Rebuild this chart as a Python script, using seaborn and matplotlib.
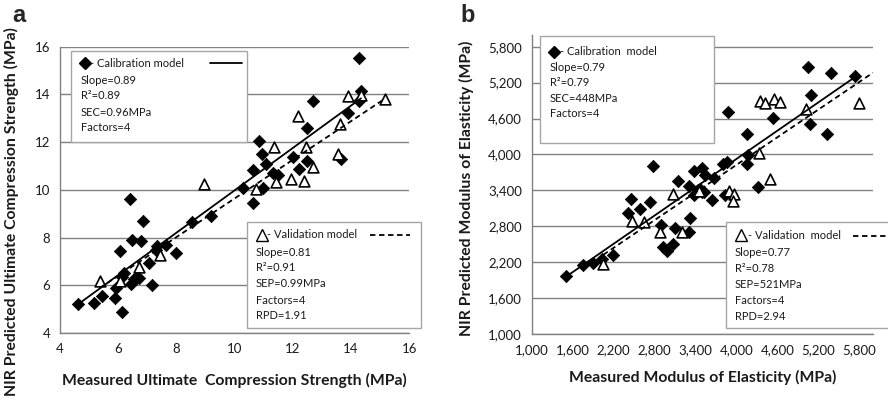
import matplotlib
matplotlib.use("Agg")
import matplotlib.pyplot as plt
import seaborn as sns
import numpy as np
from matplotlib.patches import Rectangle
from matplotlib.lines import Line2D

# ---------------- data ----------------
# Panel a: ultimate compression strength (MPa)
a_cal_x = [4.62, 5.16, 5.45, 5.88, 5.93, 6.13, 6.13, 6.19, 6.07, 6.44, 6.55, 6.65, 6.73,
           6.42, 6.47, 6.79, 6.84, 7.05, 7.16, 7.33, 7.30, 7.65, 7.98, 8.55, 9.18, 10.28,
           10.62, 10.97, 10.62, 10.84, 10.95, 11.07, 11.31, 11.48, 11.99, 12.20, 12.50,
           12.47, 12.70, 13.65, 13.90, 14.28, 14.34, 14.28]
a_cal_y = [5.21, 5.25, 5.56, 5.46, 5.88, 4.90, 6.36, 6.53, 7.44, 6.06, 6.28, 6.36, 6.32,
           9.61, 7.90, 7.86, 8.71, 6.95, 6.00, 7.66, 7.48, 7.69, 7.37, 8.64, 8.92, 10.09,
           9.46, 10.09, 10.82, 12.05, 11.49, 11.09, 10.72, 10.62, 11.39, 10.86, 11.22,
           12.58, 13.74, 11.28, 13.24, 13.72, 14.16, 15.54]
a_val_x = [5.36, 6.07, 6.70, 7.42, 8.96, 10.74, 11.41, 11.35, 11.93, 12.39, 12.45, 12.19,
           12.70, 13.56, 13.62, 13.90, 14.34, 15.16]
a_val_y = [6.20, 6.18, 6.76, 7.27, 10.24, 10.03, 10.32, 11.79, 10.46, 10.37, 11.81, 13.11,
           10.97, 11.50, 12.75, 13.95, 13.98, 13.80]
a_cal_fit = [0.888, 1.10]   # slope, intercept
a_val_fit = [0.81, 1.54]

# Panel b: modulus of elasticity (MPa)
b_cal_x = [1500, 1750, 1893, 2025, 2190, 2406, 2452, 2580, 2737, 2772, 2890, 2927, 2985,
           3064, 3100, 3138, 3308, 3313, 3308, 3375, 3381, 3430, 3470, 3489, 3498, 3537,
           3520, 3635, 3674, 3797, 3830, 3864, 3878, 4148, 4157, 4171, 4318, 4528, 5046,
           5070, 5089, 5324, 5392, 5734]
b_cal_y = [1969, 2153, 2191, 2253, 2320, 3016, 3262, 3087, 3200, 3812, 2813, 2459, 2387,
           2500, 2766, 3556, 2709, 2933, 3478, 3323, 3723, 3400, 3420, 3378, 3779, 3657,
           3380, 3245, 3611, 3840, 3315, 3868, 4704, 4348, 3838, 3997, 3450, 4604, 5453,
           4509, 4988, 4348, 5366, 5313]
b_val_x = [2049, 2464, 2649, 2878, 3064, 3200, 3450, 3893, 3962, 3952, 4332, 4489, 4343,
           4420, 4548, 4636, 5016, 5797]
b_val_y = [2170, 2890, 2870, 2704, 3336, 2704, 3390, 3389, 3334, 3227, 4019, 3585, 4894,
           4866, 4923, 4882, 4754, 4866]
b_cal_fit = [0.788, 773]
b_val_fit = [0.77, 746]

a_ticks = [4, 6, 8, 10, 12, 14, 16]
b_ticks = [1000, 1600, 2200, 2800, 3400, 4000, 4600, 5200, 5800]

a_cal_text = ["- Calibration model", "Slope=0.89", "R\u00b2=0.89", "SEC=0.96MPa", "Factors=4"]
a_val_text = ["- Validation model", "Slope=0.81", "R\u00b2=0.91", "SEP=0.99MPa", "Factors=4", "RPD=1.91"]
b_cal_text = ["- Calibration  model", "Slope=0.79", "R\u00b2=0.79", "SEC=448MPa", "Factors=4"]
b_val_text = ["- Validation  model", "Slope=0.77", "R\u00b2=0.78", "SEP=521MPa", "Factors=4", "RPD=2.94"]

# ---------------- style ----------------
sns.set_theme(style="white")
plt.rcParams['font.family'] = ['Lato', 'DejaVu Sans']

W, H = 888, 400
fig = plt.figure(figsize=(W / 100, H / 100), dpi=100)

def fx(px):
    return px / W

def fy(py):
    return 1 - py / H

A_L, A_R, A_T, A_B = 60, 409.3, 46.7, 333
B_L, B_R, B_T, B_B = 531.7, 873, 34.75, 334
axA = fig.add_axes([fx(A_L), fy(A_B), fx(A_R - A_L), (A_B - A_T) / H])
axB = fig.add_axes([fx(B_L), fy(B_B), fx(B_R - B_L), (B_B - B_T) / H])

GRID = '#808080'

def style_axis(ax):
    for s in ['top', 'right']:
        ax.spines[s].set_visible(False)
    for s in ['left', 'bottom']:
        ax.spines[s].set_color(GRID)
        ax.spines[s].set_linewidth(1.0)
    ax.yaxis.grid(True, color=GRID, linewidth=1.0)
    ax.xaxis.grid(False)
    ax.set_axisbelow(True)
    ax.tick_params(axis='both', direction='out', length=4, width=1, color=GRID,
                   labelsize=9.5, labelcolor='#1a1a1a', pad=3)

def draw_panel(ax, cx, cy, vx, vy, cfit, vfit, xlim, ylim, ticks, xline_end):
    sns.scatterplot(x=cx, y=cy, ax=ax, marker='D', s=40, color='black',
                    edgecolor='black', linewidth=0.5, zorder=3, legend=False)
    sns.scatterplot(x=vx, y=vy, ax=ax, marker='^', s=60, color='white',
                    edgecolor='black', linewidth=1.2, zorder=3, legend=False)
    xc = np.array([min(cx), max(cx)])
    sns.lineplot(x=xc, y=cfit[0] * xc + cfit[1], ax=ax, color='black',
                 linewidth=1.3, zorder=4)
    xv = np.array([min(vx), xline_end])
    ln = sns.lineplot(x=xv, y=vfit[0] * xv + vfit[1], ax=ax, color='black',
                      linewidth=1.3, zorder=4)
    ln.lines[-1].set_dashes([3, 2])
    ax.set_xlim(*xlim)
    ax.set_ylim(*ylim)
    ax.set_xticks(ticks)
    ax.set_yticks(ticks)
    style_axis(ax)

draw_panel(axA, a_cal_x, a_cal_y, a_val_x, a_val_y, a_cal_fit, a_val_fit,
           (4, 16), (4, 16), a_ticks, max(a_val_x))
draw_panel(axB, b_cal_x, b_cal_y, b_val_x, b_val_y, b_cal_fit, b_val_fit,
           (1000, 6000), (1000, 6000), b_ticks, 6000)
axB.xaxis.set_major_formatter(matplotlib.ticker.StrMethodFormatter('{x:,.0f}'))
axB.yaxis.set_major_formatter(matplotlib.ticker.StrMethodFormatter('{x:,.0f}'))

lab = dict(fontsize=11.3, fontweight='bold', color='#1a1a1a')
axA.set_xlabel("Measured Ultimate  Compression Strength (MPa)", **lab)
axA.set_ylabel("NIR Predicted Ultimate Compression Strength (MPa)", **lab)
axB.set_xlabel("Measured Modulus of Elasticity (MPa)", **lab)
axB.set_ylabel("NIR Predicted Modulus of Elasticity (MPa)", **lab)

# label positions (axes coordinates computed from pixel targets)
axA.xaxis.set_label_coords(0.5, (A_B - 373) / (A_B - A_T))
axA.yaxis.set_label_coords((19 - A_L) / (A_R - A_L), (A_B - 212) / (A_B - A_T))
axB.xaxis.set_label_coords(0.5, (B_B - 369.5) / (B_B - B_T))
axB.yaxis.set_label_coords((474 - B_L) / (B_R - B_L), (B_B - 188) / (B_B - B_T))

fig.text(fx(19), fy(16), "a", fontsize=17, fontweight='bold', ha='center', va='center',
         family=['Liberation Sans', 'DejaVu Sans'])
fig.text(fx(468), fy(16), "b", fontsize=17, fontweight='bold', ha='center', va='center',
         family=['Liberation Sans', 'DejaVu Sans'])

def text_box(x0, x1, y0, y1, tx, ys, lines, mk, mkx, hx, sample=None, dashed=False):
    rect = Rectangle((fx(x0), fy(y1)), fx(x1 - x0), (y1 - y0) / H,
                     transform=fig.transFigure, facecolor='white',
                     edgecolor='#a6a6a6', linewidth=1.0, zorder=10, clip_on=False)
    fig.add_artist(rect)
    fig.text(fx(hx), fy(ys[0]), lines[0], fontsize=8, color='#1a1a1a', ha='left',
             va='center', zorder=11)
    for t, yy in zip(lines[1:], ys[1:]):
        fig.text(fx(tx), fy(yy), t, fontsize=8, color='#1a1a1a', ha='left', va='center',
                 zorder=11)
    if mk == 'D':
        m = Line2D([fx(mkx)], [fy(ys[0])], transform=fig.transFigure, marker='D',
                   markersize=6, color='black', linestyle='none', zorder=11)
    else:
        m = Line2D([fx(mkx)], [fy(ys[0] - 0.5)], transform=fig.transFigure, marker='^',
                   markersize=8, markerfacecolor='white', markeredgecolor='black',
                   markeredgewidth=1.0, linestyle='none', zorder=11)
    fig.add_artist(m)
    if sample is not None:
        l = Line2D([fx(sample[0]), fx(sample[1])], [fy(ys[0]), fy(ys[0])],
                   transform=fig.transFigure, color='black', linewidth=1.3, zorder=11)
        if dashed:
            l.set_dashes([3, 2])
        fig.add_artist(l)

text_box(71, 246.7, 50.7, 141.7, 81, [63.3, 80, 95.3, 112, 127.7], a_cal_text,
         'D', 85, 90, sample=(210, 242))
text_box(246.7, 420.7, 221.7, 328.3, 255.7, [235, 252, 267.7, 283.3, 300, 315.7],
         a_val_text, '^', 261.5, 267, sample=(370, 410), dashed=True)
text_box(540, 714, 36, 143.3, 550, [51.7, 67.3, 82.7, 98.3, 113.3], b_cal_text,
         'D', 553.5, 560)
text_box(725.7, 900, 222.3, 328.3, 735, [235.7, 252.3, 268.7, 285, 301, 317],
         b_val_text, '^', 740.5, 748, sample=(853, 887), dashed=True)

fig.savefig("out.png", dpi=100)
